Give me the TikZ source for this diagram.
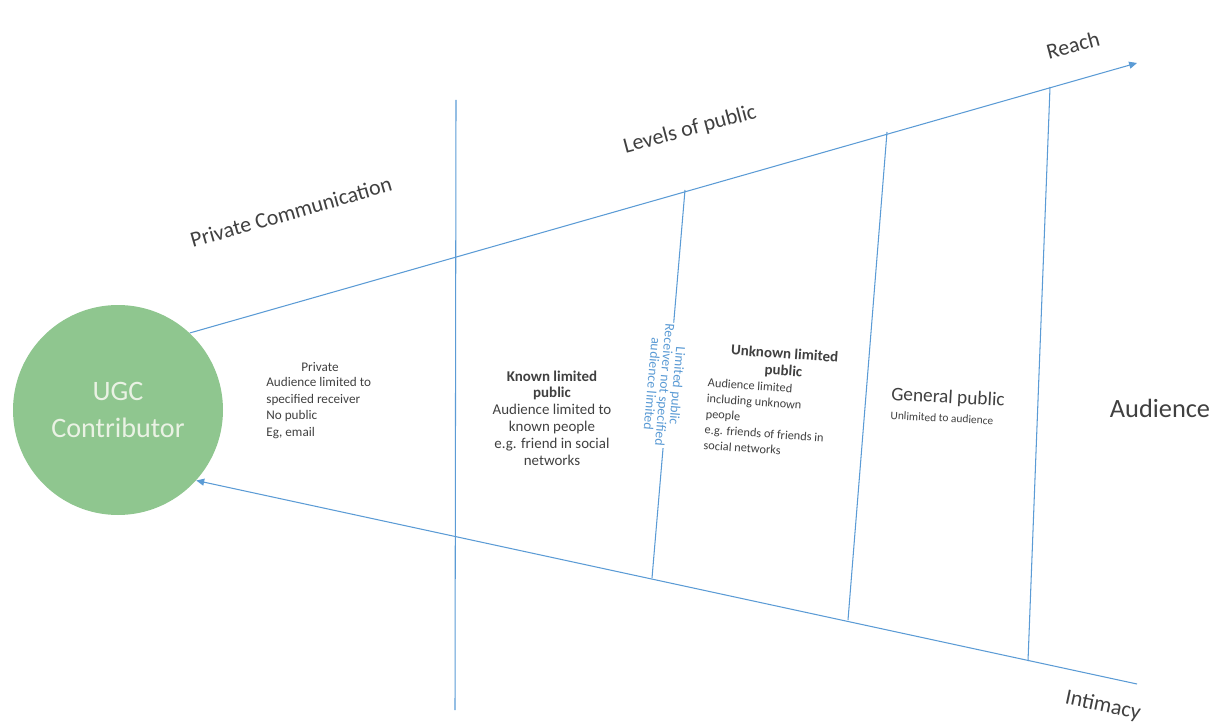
\documentclass[tikz,border=0pt]{standalone}
\usepackage{fontspec}
\setmainfont{Carlito}
\usetikzlibrary{arrows.meta,positioning}
\definecolor{linkblue}{RGB}{91,155,213}
\definecolor{ugcgreen}{RGB}{143,198,143}
\definecolor{ugctext}{RGB}{234,242,228}
\definecolor{txtgray}{RGB}{64,64,64}
\tikzset{
    contributor/.style = {circle, fill=ugcgreen, minimum size=4.2cm,
        inner sep=0pt, align=center, text=ugctext,
        font=\fontsize{16}{21}\selectfont},
    input/.style = {coordinate},
    axis/.style = {draw=linkblue, line width=0.6pt},
    divider/.style = {draw=linkblue, line width=0.6pt},
    heading/.style = {text=txtgray, inner sep=0pt, font=\fontsize{12.5}{15}\selectfont},
    note/.style = {text=txtgray, inner sep=0pt, align=left, font=\fontsize{7.5}{9.4}\selectfont},
    boldnote/.style = {text=txtgray, inner sep=0pt, align=center, font=\fontsize{8.5}{9.6}\selectfont}
}

\begin{document}
\begin{tikzpicture}[>={Triangle[length=4.5pt,width=4pt]}]
    \useasboundingbox (0,0) rectangle (24.34,14.54);
    \node [contributor] (ugc) at (2.36,6.34) {UGC\\Contributor};
    \node [input, name=reachend] at (22.74,13.28) {};
    \node [input, name=intimacyend] at (22.74,0.86) {};
    \draw [axis,->] (ugc.47) -- (reachend);
    \draw [axis,->] (intimacyend) -- (ugc.-42);
    \node [input, name=div0top] at (9.12,12.54) {};
    \node [input, name=div0bot] at (9.10,0.34) {};
    \node [input, name=div1top] at (13.70,10.74) {};
    \node [input, name=div1bot] at (13.04,2.98) {};
    \node [input, name=div2top] at (17.74,11.90) {};
    \node [input, name=div2bot] at (16.96,2.14) {};
    \node [input, name=div3top] at (21.00,12.80) {};
    \node [input, name=div3bot] at (20.56,1.32) {};
    \draw [divider] (div0top) -- (div0bot);
    \draw [divider] (div1top) -- (div1bot);
    \draw [divider] (div2top) -- (div2bot);
    \draw [divider] (div3top) -- (div3bot);
    \node [heading, rotate=16] (privcomm) at (5.82,10.30) {Private Communication};
    \node [heading, rotate=15] (levels) at (13.80,11.94) {Levels of public};
    \node [heading, rotate=15] (reach) at (21.46,13.64) {Reach};
    \node [heading, rotate=-12] (intimacy) at (22.06,0.42) {Intimacy};
    \node [heading, font=\fontsize{15}{18}\selectfont] (audience) at (23.20,6.38) {Audience};
    \node [note] (privhead) at (6.40,7.20) {Private};
    \node [note, anchor=north west] (privbody) at (5.32,7.00) {Audience limited to\\specified receiver\\No public\\Eg, email};
    \node [boldnote] (known) at (11.04,6.18) {\textbf{Known limited}\\\textbf{public}\\Audience limited to\\known people\\e.g. friend in social\\networks};
    \node [note, rotate=-95, align=center, fill=white, inner sep=1pt, text=linkblue,
        font=\fontsize{7.8}{7.2}\selectfont] (limited) at (13.30,6.84) {Limited public\\Receiver not specified\\audience limited};
    \node [boldnote, rotate=-4] (unknownhead) at (15.68,7.28) {\textbf{Unknown limited}\\\textbf{public}};
    \node [note, rotate=-4, anchor=north west, font=\fontsize{7}{8.9}\selectfont] (unknownbody) at (14.16,6.98) {Audience limited\\including unknown\\people\\e.g. friends of friends in\\social networks};
    \node [heading, rotate=-3, font=\fontsize{11}{13}\selectfont] (general) at (18.96,6.58) {General public};
    \node [note, rotate=-3, font=\fontsize{6.5}{8}\selectfont] (unlimited) at (18.84,6.18) {Unlimited to audience};
\end{tikzpicture}
\end{document}
